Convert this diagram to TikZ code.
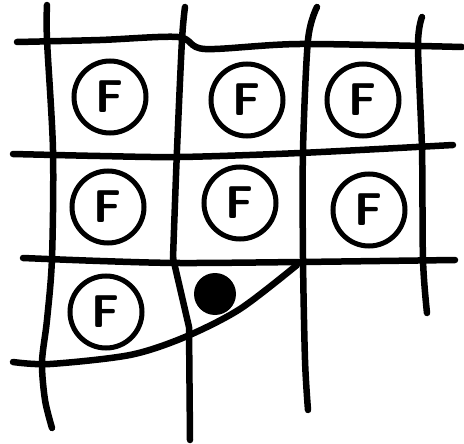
\documentclass[tikz,border=0pt]{standalone}
\usepackage{tikz}

\tikzset{
  gridline/.style={line width=6.5pt, line cap=round, line join=round},
  fring/.style={circle, draw, line width=5pt, minimum size=72pt, inner sep=0pt,
    font=\sffamily\bfseries\fontsize{46}{46}\selectfont},
}

\begin{document}
\begin{tikzpicture}[x=1pt, y=-1pt]
  \useasboundingbox (0,0) rectangle (464,444);
  \fill[white] (0,0) rectangle (464,444);

  % horizontal lines
  \draw[gridline] plot[smooth] coordinates {(17,42) (100,40) (178,37) (205,49) (300,44) (462,47)};
  \draw[gridline] plot[smooth] coordinates {(13,154) (100,156) (180,157) (300,153) (453,145)};
  \draw[gridline] plot[smooth] coordinates {(23,258) (100,261) (180,263) (300,262) (455,260)};
  % bottom edge curving up to the middle crossing
  \draw[gridline] plot[smooth] coordinates {(13,362) (50,364) (130,355) (185,337) (240,309) (297,265)};

  % vertical lines
  \draw[gridline] plot[smooth] coordinates {(47,5) (47,40) (53,150) (52,258) (47,320) (42,362) (45,400) (52,428)};
  \draw[gridline] plot[smooth] coordinates {(185,7) (182,40) (177,150) (173,258)};
  \draw[gridline] (173,258) -- (189,327) -- (190,440);
  \draw[gridline] plot[smooth] coordinates {(317,7) (308,40) (303,150) (303,258) (305,360) (308,410)};
  \draw[gridline] plot[smooth] coordinates {(422,17) (418,45) (422,150) (423,260) (427,313)};

  % cells
  \node[fring] (f11) at (110,97) {F};
  \node[fring] (f12) at (247,100) {F};
  \node[fring] (f13) at (363,100) {F};
  \node[fring] (f21) at (108,207) {F};
  \node[fring] (f22) at (240,203) {F};
  \node[fring] (f23) at (369,210) {F};
  \node[fring] (f31) at (106,312) {F};

  % filled blob
  \node[circle, fill, minimum size=42pt, inner sep=0pt] (blob) at (215,294) {};
\end{tikzpicture}
\end{document}
